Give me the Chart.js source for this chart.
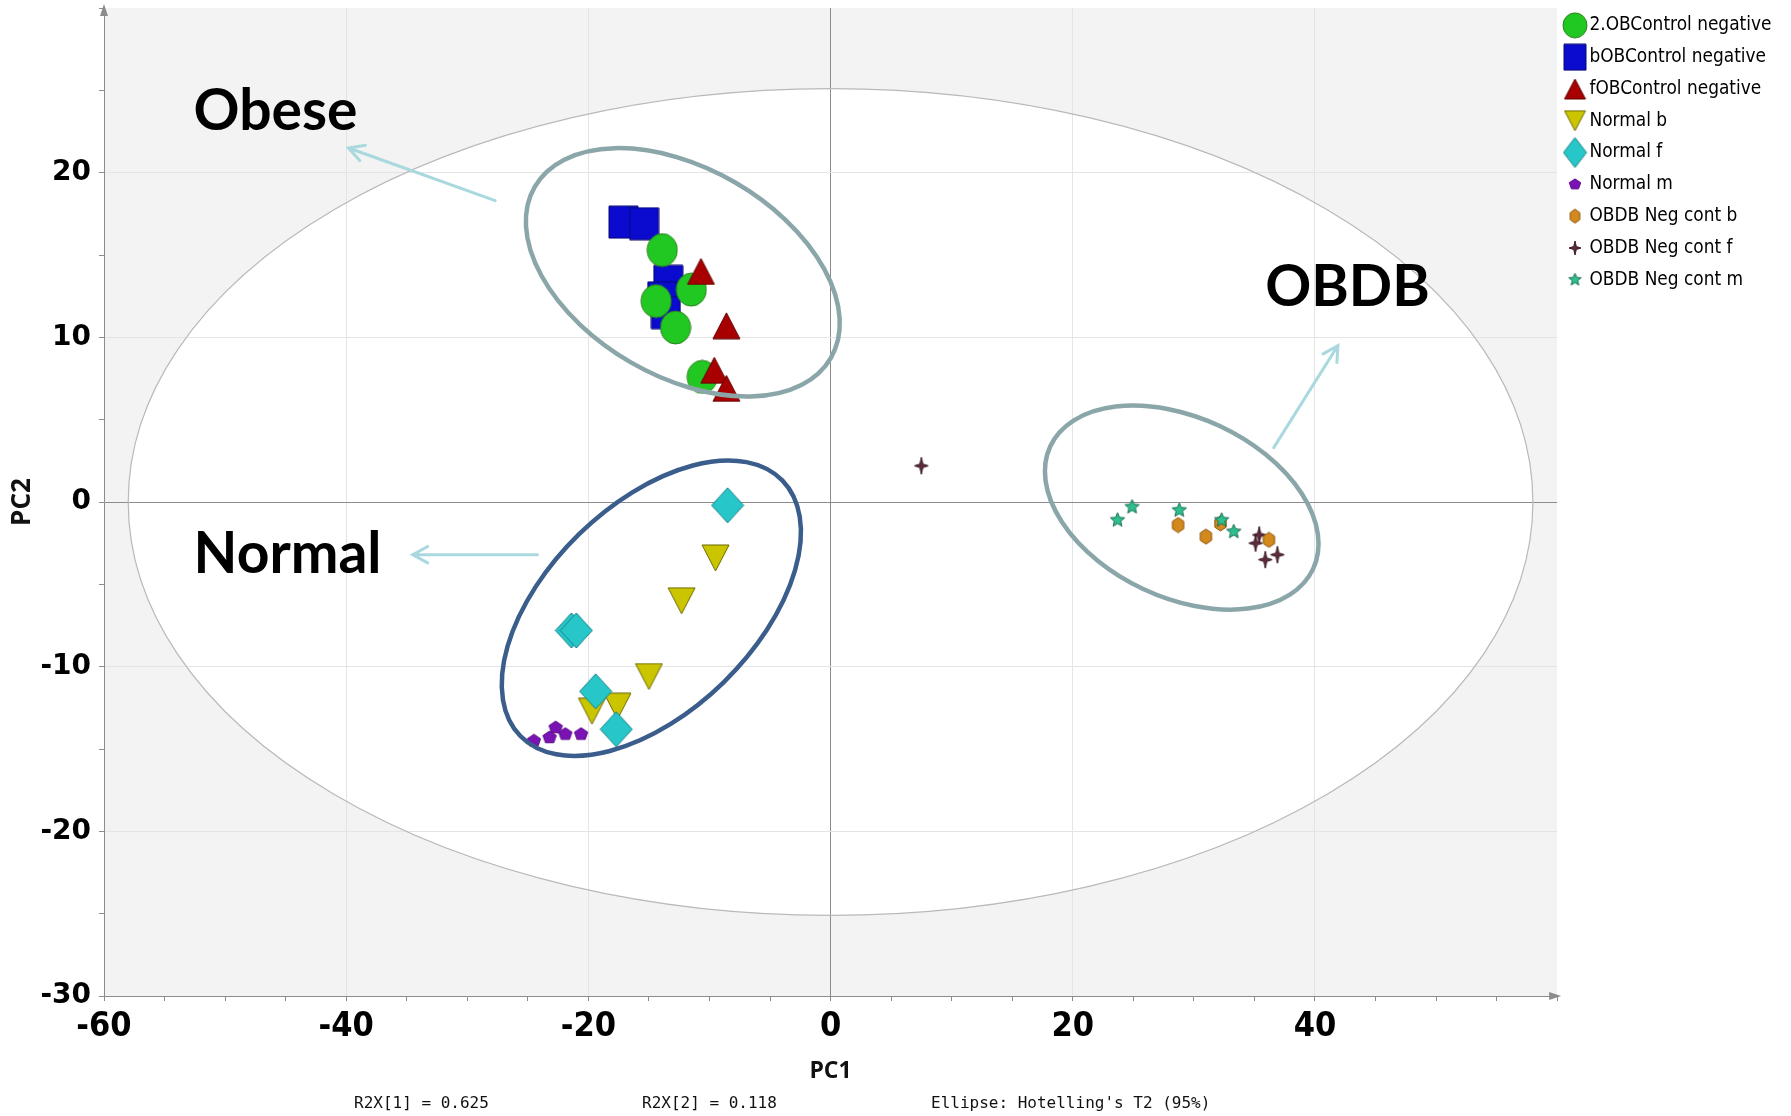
<!DOCTYPE html>
<html>
<head>
<meta charset="utf-8">
<script src="https://cdn.jsdelivr.net/npm/chart.js@4.4.1/dist/chart.umd.min.js"></script>
<style>
html, body { margin: 0; padding: 0; background: #fff; }
canvas { display: block; }
</style>
</head>
<body>
<canvas id="pca" width="1791" height="1116"></canvas>
<script>
// PCA scores, [PC1, PC2]
const obControl2 = [[-13.9, 15.3], [-11.5, 12.9], [-14.4, 12.2], [-12.8, 10.6], [-10.6, 7.6]];
const bObControl = [[-17.1, 17.0], [-15.4, 16.9], [-13.4, 13.4], [-13.9, 12.4], [-13.6, 11.5]];
const fObControl = [[-10.7, 14.0], [-8.6, 10.7], [-9.6, 8.0], [-8.6, 6.9]];
const normalB = [[-9.5, -3.4], [-12.3, -6.0], [-15.0, -10.6], [-19.7, -12.7], [-17.6, -12.4]];
const normalF = [[-8.5, -0.2], [-21.4, -7.8], [-21.0, -7.8], [-19.4, -11.5], [-17.7, -13.8]];
const normalM = [[-22.7, -13.7], [-23.2, -14.3], [-21.9, -14.1], [-20.6, -14.1], [-24.5, -14.5]];
const obdbB = [[28.7, -1.4], [31.0, -2.1], [32.2, -1.3], [36.2, -2.3]];
const obdbF = [[7.5, 2.2], [35.4, -2.0], [35.1, -2.5], [35.9, -3.5], [36.9, -3.2]];
const obdbM = [[23.7, -1.1], [24.9, -0.3], [28.8, -0.5], [32.3, -1.1], [33.3, -1.8]];

const seriesNames = ['2.OBControl negative', 'bOBControl negative', 'fOBControl negative',
  'Normal b', 'Normal f', 'Normal m', 'OBDB Neg cont b', 'OBDB Neg cont f', 'OBDB Neg cont m'];
const seriesScores = [obControl2, bObControl, fObControl, normalB, normalF, normalM, obdbB, obdbF, obdbM];

const xTicks = [-60, -40, -20, 0, 20, 40];
const yTicks = [-30, -20, -10, 0, 10, 20];
const r2x = ['R2X[1] = 0.625', 'R2X[2] = 0.118', "Ellipse: Hotelling's T2 (95%)"];

// Hotelling T2 ellipse half axes in score units
const hotellingA = 58;
const hotellingB = 25.1;

// marker look per series
const seriesShape = ['circle', 'square', 'up', 'down', 'diamond', 'pentagon', 'hexagon', 'sparkle', 'star'];
const seriesFill = ['#22c822', '#0b0bd0', '#a80000', '#cbc500', '#26c6c9', '#7a12b4', '#d4891c', '#5d2b3c', '#2cc090'];
const seriesEdge = ['#2a7f1c', '#08086e', '#5e0000', '#6b6800', '#1a8488', '#5a0a86', '#8a5410', '#3a1824', '#1a6c52'];
const seriesOrder = [1, 2, 0, 1, 0, 2, 1, 2, 0];
const plotSize = [[30, 33], [29, 32], [27, 26], [27, 26], [32, 35], [14, 13], [13, 15], [14, 17], [15, 15]];
const legendSize = [[24, 25], [22, 26], [21, 20], [21, 20], [23, 30], [12, 11], [11, 14], [12, 14], [13, 13]];

// hand drawn group rings: centre in score units, half axes in px, tilt in degrees
const rings = [
  {x: -12.2, y: 13.95, a: 171, b: 104, tilt: 30, color: '#8ba6a9'},
  {x: -14.8, y: -6.45, a: 183, b: 103.5, tilt: -44.3, color: '#3a5d8b'},
  {x: 29.0, y: -0.34, a: 145, b: 90, tilt: 25, color: '#8ba6a9'}
];
const notes = [
  {text: 'Obese', x: -52.6, y: 22.6},
  {text: 'Normal', x: -52.6, y: -4.3},
  {text: 'OBDB', x: 35.9, y: 11.9}
];
const pointers = [
  {from: [-27.7, 18.3], to: [-39.8, 21.5]},
  {from: [-24.2, -3.2], to: [-34.5, -3.2]},
  {from: [36.6, 3.3], to: [41.9, 9.5]}
];

function marker(shape, w, h, fill, edge) {
  const c = document.createElement('canvas');
  c.width = w + 2;
  c.height = h + 2;
  const g = c.getContext('2d');
  const cx = c.width / 2, cy = c.height / 2, rx = w / 2, ry = h / 2;
  g.beginPath();
  if (shape === 'circle') {
    g.ellipse(cx, cy, rx, ry, 0, 0, Math.PI * 2);
  } else if (shape === 'square') {
    g.rect(cx - rx, cy - ry, w, h);
  } else if (shape === 'up') {
    g.moveTo(cx, cy - ry); g.lineTo(cx + rx, cy + ry); g.lineTo(cx - rx, cy + ry);
  } else if (shape === 'down') {
    g.moveTo(cx - rx, cy - ry); g.lineTo(cx + rx, cy - ry); g.lineTo(cx, cy + ry);
  } else if (shape === 'diamond') {
    g.moveTo(cx, cy - ry); g.lineTo(cx + rx, cy); g.lineTo(cx, cy + ry); g.lineTo(cx - rx, cy);
  } else {
    const n = {pentagon: 5, hexagon: 6, sparkle: 4, star: 5}[shape];
    const inner = shape === 'sparkle' ? 0.3 : (shape === 'star' ? 0.45 : 1);
    const pts = inner < 1 ? n * 2 : n;
    for (let i = 0; i < pts; i++) {
      const ang = -Math.PI / 2 + i * 2 * Math.PI / pts;
      const k = (inner < 1 && i % 2) ? inner : 1;
      g.lineTo(cx + Math.cos(ang) * rx * k, cy + Math.sin(ang) * ry * k);
    }
  }
  g.closePath();
  g.fillStyle = fill;
  g.fill();
  g.lineWidth = 1;
  g.strokeStyle = edge;
  g.stroke();
  return c;
}

const plotMarkers = seriesShape.map((s, i) => marker(s, plotSize[i][0], plotSize[i][1], seriesFill[i], seriesEdge[i]));
const legendMarkers = seriesShape.map((s, i) => marker(s, legendSize[i][0], legendSize[i][1], seriesFill[i], seriesEdge[i]));

// pick a narrow face if one is installed
const measure = document.createElement('canvas').getContext('2d');
function hasFont(name) {
  const probe = 'mmmmmmmmmmlliWW0123';
  return ['monospace', 'serif'].some(base => {
    measure.font = '72px ' + base;
    const w0 = measure.measureText(probe).width;
    measure.font = "72px '" + name + "', " + base;
    return measure.measureText(probe).width !== w0;
  });
}
const narrowFace = ['Liberation Sans Narrow', 'DejaVu Sans Condensed', 'Noto Sans Condensed'].find(hasFont);
const legendFamily = narrowFace ? "'" + narrowFace + "', 'Liberation Sans', sans-serif" : "'Liberation Sans', sans-serif";

// legend text must fit between the plot edge and the canvas edge
measure.font = '23px ' + legendFamily;
const widest23 = Math.max(...seriesNames.map(s => measure.measureText(s).width));
const legendSizePx = Math.min(23, Math.floor(23 * 183 / widest23 * 10) / 10);
const legendFont = {family: legendFamily, size: legendSizePx};
measure.font = legendSizePx + 'px ' + legendFamily;
const widest = Math.max(...seriesNames.map(s => measure.measureText(s).width));
const legendWidth = 9 + 10 + legendSizePx / 2 + widest + 10;
const padRight = Math.max(0, 1791 - 1561 - legendWidth);
const xTickFont = narrowFace
  ? {family: "'" + narrowFace + "', sans-serif", size: 34, weight: 'bold'}
  : {family: "'Liberation Sans', sans-serif", size: 33, weight: 'bold'};

const AXIS = '#8c8c8c';

const decor = {
  id: 'decor',
  afterLayout(chart) {
    // the legend column sits a little higher than the plot top
    chart.legend.top -= 5;
    chart.legend.bottom -= 5;
  },
  beforeDraw(chart) {
    const {ctx, chartArea: ca, scales: {x, y}} = chart;
    ctx.save();
    ctx.fillStyle = '#f3f3f3';
    ctx.fillRect(ca.left, ca.top, ca.right - ca.left, ca.bottom - ca.top);
    const cx = x.getPixelForValue(0), cy = y.getPixelForValue(0);
    ctx.beginPath();
    ctx.ellipse(cx, cy, x.getPixelForValue(hotellingA) - cx, cy - y.getPixelForValue(hotellingB), 0, 0, Math.PI * 2);
    ctx.fillStyle = '#ffffff';
    ctx.fill();
    ctx.restore();
  },
  beforeDatasetsDraw(chart) {
    const {ctx, chartArea: ca, scales: {x, y}} = chart;
    ctx.save();
    const cx = x.getPixelForValue(0), cy = y.getPixelForValue(0);
    ctx.beginPath();
    ctx.ellipse(cx, cy, x.getPixelForValue(hotellingA) - cx, cy - y.getPixelForValue(hotellingB), 0, 0, Math.PI * 2);
    ctx.strokeStyle = '#b9b9b9';
    ctx.lineWidth = 1.2;
    ctx.stroke();
    // axis arrow heads
    ctx.fillStyle = AXIS;
    ctx.beginPath();
    ctx.moveTo(ca.left, ca.top - 4); ctx.lineTo(ca.left - 4, ca.top + 8); ctx.lineTo(ca.left + 4, ca.top + 8);
    ctx.fill();
    ctx.beginPath();
    ctx.moveTo(ca.right + 4, ca.bottom); ctx.lineTo(ca.right - 8, ca.bottom - 4); ctx.lineTo(ca.right - 8, ca.bottom + 4);
    ctx.fill();
    ctx.restore();
  },
  afterDatasetsDraw(chart) {
    const {ctx, scales: {x, y}} = chart;
    ctx.save();
    rings.forEach(r => {
      ctx.beginPath();
      ctx.ellipse(x.getPixelForValue(r.x), y.getPixelForValue(r.y), r.a, r.b, r.tilt * Math.PI / 180, 0, Math.PI * 2);
      ctx.strokeStyle = r.color;
      ctx.lineWidth = 4.5;
      ctx.stroke();
    });
    ctx.strokeStyle = '#a9d9de';
    ctx.lineWidth = 3;
    ctx.lineCap = 'round';
    pointers.forEach(p => {
      const x0 = x.getPixelForValue(p.from[0]), y0 = y.getPixelForValue(p.from[1]);
      const x1 = x.getPixelForValue(p.to[0]), y1 = y.getPixelForValue(p.to[1]);
      const ang = Math.atan2(y1 - y0, x1 - x0);
      ctx.beginPath();
      ctx.moveTo(x0, y0); ctx.lineTo(x1, y1);
      ctx.moveTo(x1 - 17 * Math.cos(ang - 0.5), y1 - 17 * Math.sin(ang - 0.5));
      ctx.lineTo(x1, y1);
      ctx.lineTo(x1 - 17 * Math.cos(ang + 0.5), y1 - 17 * Math.sin(ang + 0.5));
      ctx.stroke();
    });
    ctx.fillStyle = '#000';
    ctx.font = "bold 57px Lato, 'Open Sans', sans-serif";
    ctx.textBaseline = 'alphabetic';
    ctx.textAlign = 'left';
    notes.forEach(n => ctx.fillText(n.text, x.getPixelForValue(n.x), y.getPixelForValue(n.y)));
    ctx.restore();
  },
  afterDraw(chart) {
    const {ctx} = chart;
    ctx.save();
    ctx.font = "16px 'DejaVu Sans Mono', monospace";
    ctx.fillStyle = '#111';
    ctx.textBaseline = 'middle';
    [354, 642, 931].forEach((px, i) => ctx.fillText(r2x[i], px, 1104));
    ctx.restore();
  }
};

const datasets = seriesNames.map((name, i) => ({
  label: name,
  data: seriesScores[i].map(p => ({x: p[0], y: p[1]})),
  pointStyle: plotMarkers[i],
  backgroundColor: seriesFill[i],
  borderColor: seriesEdge[i],
  order: seriesOrder[i]
}));

new Chart(document.getElementById('pca'), {
  type: 'scatter',
  data: {datasets},
  plugins: [decor],
  options: {
    responsive: false,
    animation: false,
    devicePixelRatio: 1,
    layout: {padding: {top: 8, right: padRight, left: 0, bottom: 0}},
    plugins: {
      tooltip: {enabled: false},
      legend: {
        position: 'right',
        align: 'start',
        labels: {
          usePointStyle: true,
          boxWidth: 10,
          boxHeight: 10,
          padding: 31.8 - legendSizePx,
          color: '#222',
          font: legendFont,
          generateLabels: chart => chart.data.datasets.map((ds, i) => ({
            text: ds.label,
            pointStyle: legendMarkers[i],
            fillStyle: seriesFill[i],
            strokeStyle: seriesEdge[i],
            lineWidth: 0,
            hidden: false,
            datasetIndex: i
          }))
        }
      }
    },
    scales: {
      x: {
        type: 'linear',
        min: -60,
        max: 60,
        afterFit: s => { s.height = 120; s.paddingLeft = 0; s.paddingRight = 0; },
        ticks: {
          stepSize: 5,
          autoSkip: false,
          maxRotation: 0,
          padding: 6,
          color: '#000',
          font: xTickFont,
          callback: v => xTicks.includes(v) ? String(v) : ''
        },
        grid: {
          color: c => c.tick.value === 0 ? AXIS : (xTicks.includes(c.tick.value) && c.tick.value > -60 ? '#e4e4e4' : 'rgba(0,0,0,0)'),
          tickColor: AXIS,
          tickLength: 5
        },
        border: {color: AXIS, width: 1},
        title: {
          display: true,
          text: 'PC1',
          color: '#111',
          font: {family: "'Open Sans', sans-serif", size: 23, weight: 'bold'},
          padding: {top: 0, bottom: 31}
        }
      },
      y: {
        type: 'linear',
        min: -30,
        max: 30,
        afterFit: s => { s.width = 104; s.paddingTop = 0; s.paddingBottom = 0; },
        ticks: {
          stepSize: 5,
          autoSkip: false,
          padding: 8,
          color: '#000',
          font: {family: "'DejaVu Sans', sans-serif", size: 28, weight: 'bold'},
          callback: v => yTicks.includes(v) ? String(v) : ''
        },
        grid: {
          color: c => c.tick.value === 0 ? AXIS : (yTicks.includes(c.tick.value) && c.tick.value > -30 ? '#e4e4e4' : 'rgba(0,0,0,0)'),
          tickColor: AXIS,
          tickLength: 5
        },
        border: {color: AXIS, width: 1},
        title: {
          display: true,
          text: 'PC2',
          color: '#111',
          font: {family: "'Open Sans', sans-serif", size: 26, weight: 'bold'},
          padding: {top: 7, bottom: 0}
        }
      }
    }
  }
});
</script>
</body>
</html>
